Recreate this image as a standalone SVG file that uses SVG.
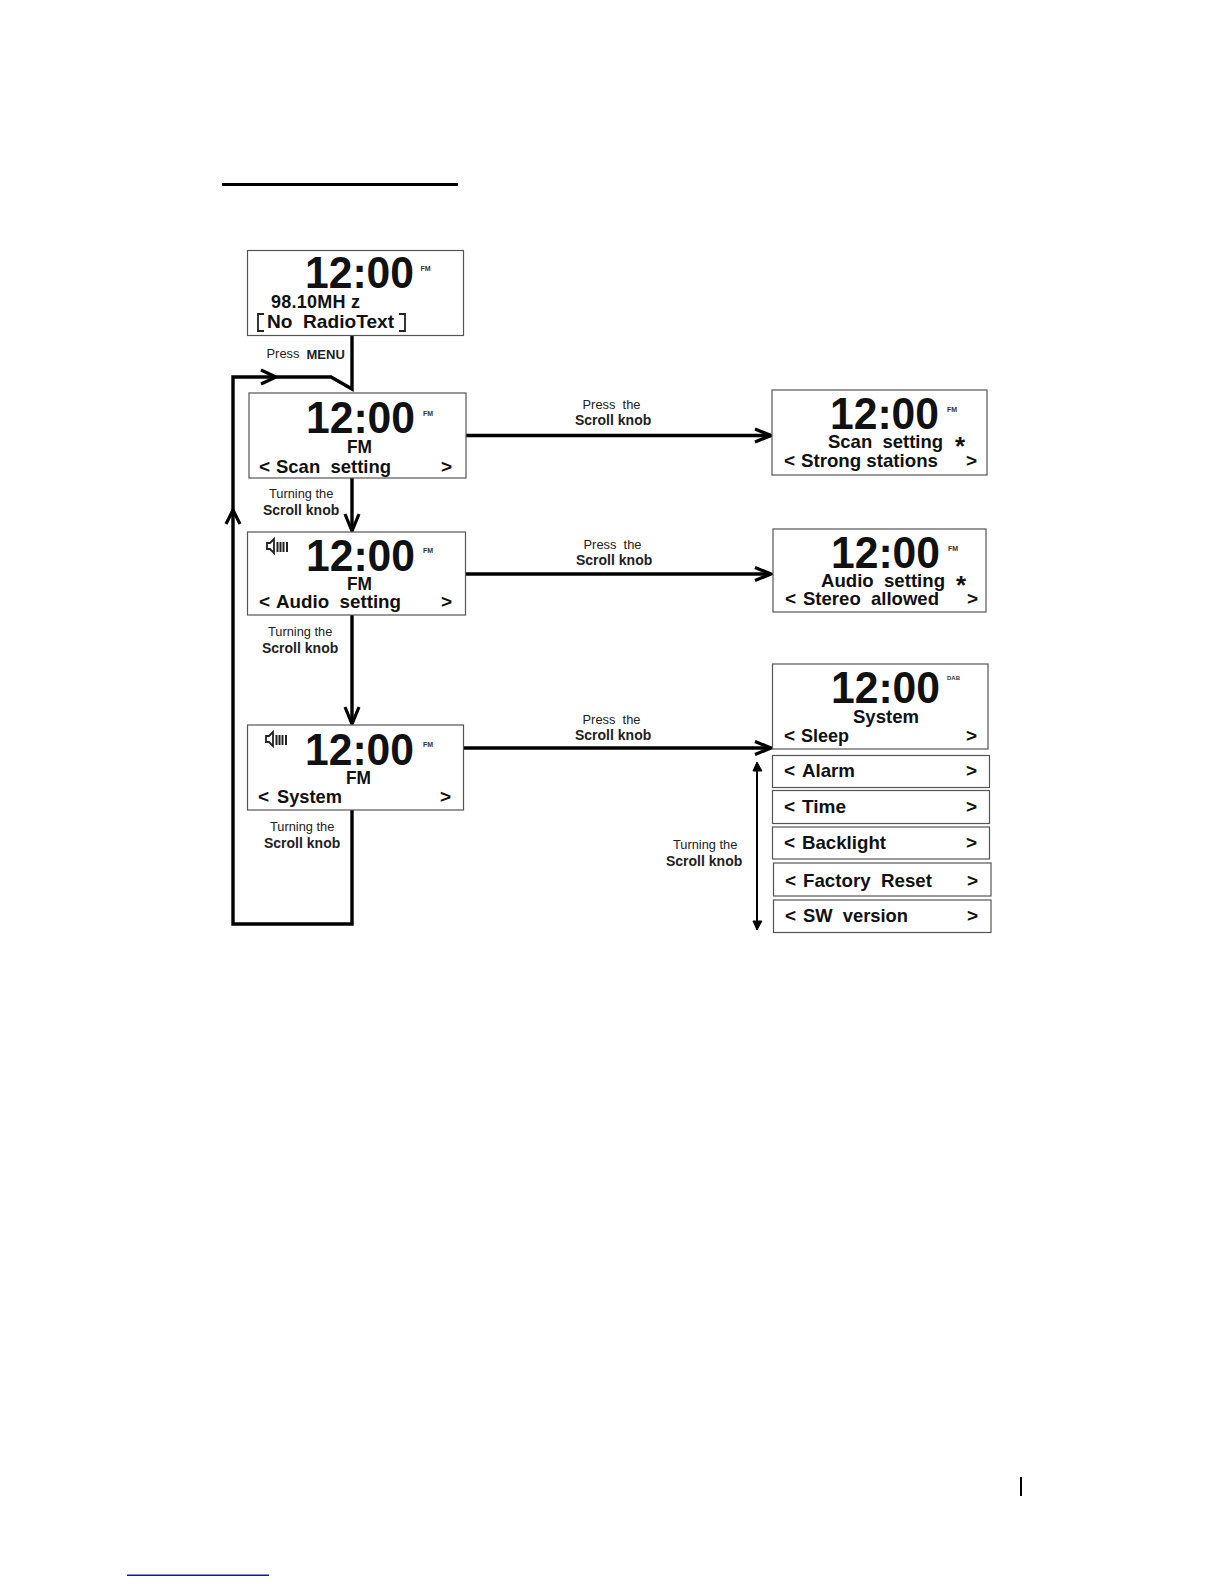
<svg xmlns="http://www.w3.org/2000/svg" width="1224" height="1584" viewBox="0 0 1224 1584">
<style>
text{font-family:"Liberation Sans",Arial,sans-serif;fill:#111;white-space:pre}
.t{font-size:45px;font-weight:700}
.m{font-size:19px;font-weight:700}
.fm{font-size:7px;font-weight:700;fill:#333}
.l{font-size:12.800px;fill:#222}
.lb{font-size:14px;font-weight:700;fill:#222}
.box{fill:#fff;stroke:#555;stroke-width:1.2}
.c{fill:none;stroke:#000;stroke-width:3.4}
.h{fill:none;stroke:#000;stroke-width:3.2}
.sp{fill:none;stroke:#222;stroke-width:1.8}
.a{font-size:26px;font-weight:700;text-anchor:middle}
</style>
<rect width="1224" height="1584" fill="#fff"/>
<rect x="222" y="183" width="236" height="3" fill="#000"/>
<g id="connectors">
<path class="c" d="M352 335V389L331 377H233V924H352V810"/>
<path class="h" d="M261 370L276 377L261 384"/>
<path class="h" d="M226 524L233 510L240 524"/>
<path class="c" d="M352 478V531"/>
<path class="h" d="M345 514L352 531L359 514"/>
<path class="c" d="M352 615V724"/>
<path class="h" d="M345 707L352 724L359 707"/>
<path class="c" d="M466 435.500H771"/>
<path class="h" d="M755 429L771 435.500L755 442"/>
<path class="c" d="M465 574H771"/>
<path class="h" d="M755 567.500L771 574L755 580.500"/>
<path class="c" d="M463 748H771"/>
<path class="h" d="M755 741.500L771 748L755 754.500"/>
<path d="M757 768V924" stroke="#000" stroke-width="2" fill="none"/>
<path d="M753 771L757 762L762 771Z M753 921L757 930L762 921Z" fill="#000" stroke="#000"/>
</g>
<g id="labels">
<text class="l" x="266.500" y="358" textLength="33" lengthAdjust="spacingAndGlyphs">Press</text><text class="lb" x="306.500" y="359" style="font-size:13px">MENU</text>
<text class="l" x="269" y="498">Turning the</text><text class="lb" x="263" y="515">Scroll knob</text>
<text class="l" x="268" y="636">Turning the</text><text class="lb" x="262" y="653">Scroll knob</text>
<text class="l" x="270" y="831">Turning the</text><text class="lb" x="264" y="848">Scroll knob</text>
<text class="l" x="673" y="849">Turning the</text><text class="lb" x="666" y="866">Scroll knob</text>
<text class="l" x="582.500" y="409" textLength="58" lengthAdjust="spacingAndGlyphs">Press  the</text><text class="lb" x="575" y="425">Scroll knob</text>
<text class="l" x="583.500" y="549" textLength="58" lengthAdjust="spacingAndGlyphs">Press  the</text><text class="lb" x="576" y="565">Scroll knob</text>
<text class="l" x="582.500" y="724" textLength="58" lengthAdjust="spacingAndGlyphs">Press  the</text><text class="lb" x="575" y="740">Scroll knob</text>
</g>
<g id="n1"><rect class="box" x="247.500" y="250.500" width="216" height="85"/>
<text class="t" x="305" y="288" textLength="109" lengthAdjust="spacingAndGlyphs">12:00</text><text class="fm" x="420.500" y="271">FM</text>
<text class="m" x="271" y="308" textLength="89" lengthAdjust="spacing" style="font-size:18px">98.10MH z</text>
<text class="m" x="267" y="328" textLength="127" lengthAdjust="spacingAndGlyphs">No  RadioText</text>
<path class="sp" d="M264 314H258V331H264M399 314H405V331H399"/></g>
<g id="n2"><rect class="box" x="249" y="393" width="217" height="85"/>
<text class="t" x="306" y="433" textLength="109" lengthAdjust="spacingAndGlyphs">12:00</text><text class="fm" x="423" y="416">FM</text>
<text class="m" x="347" y="453" textLength="25" lengthAdjust="spacingAndGlyphs">FM</text>
<text class="m" x="259" y="473">&lt;</text><text class="m" x="276" y="473" textLength="115" lengthAdjust="spacingAndGlyphs">Scan  setting</text><text class="m" x="441" y="473">&gt;</text></g>
<g id="n3"><rect class="box" x="247.500" y="532" width="218" height="83"/>
<path d="M267 543H270L274 539V553L270 549H267Z" fill="#fff" stroke="#222" stroke-width="1.800"/><path d="M277.500 542V552M280.500 542V552M283.500 542V552M287 542V552" stroke="#222" stroke-width="2"/>
<text class="t" x="306" y="571" textLength="109" lengthAdjust="spacingAndGlyphs">12:00</text><text class="fm" x="423" y="553">FM</text>
<text class="m" x="347" y="590" textLength="25" lengthAdjust="spacingAndGlyphs">FM</text>
<text class="m" x="259" y="608">&lt;</text><text class="m" x="276" y="608" textLength="125" lengthAdjust="spacingAndGlyphs">Audio  setting</text><text class="m" x="441" y="608">&gt;</text></g>
<g id="n4"><rect class="box" x="247.500" y="725" width="216" height="85"/>
<path d="M266 736H269L273 732V746L269 742H266Z" fill="#fff" stroke="#222" stroke-width="1.800"/><path d="M276.500 735V745M279.500 735V745M282.500 735V745M286 735V745" stroke="#222" stroke-width="2"/>
<text class="t" x="305" y="765" textLength="109" lengthAdjust="spacingAndGlyphs">12:00</text><text class="fm" x="423" y="747">FM</text>
<text class="m" x="346" y="784" textLength="25" lengthAdjust="spacingAndGlyphs">FM</text>
<text class="m" x="258" y="803">&lt;</text><text class="m" x="277" y="803" textLength="65" lengthAdjust="spacingAndGlyphs">System</text><text class="m" x="440" y="803">&gt;</text></g>
<g id="r1"><rect class="box" x="772" y="390" width="215" height="85"/>
<text class="t" x="830" y="429" textLength="109" lengthAdjust="spacingAndGlyphs">12:00</text><text class="fm" x="947" y="412">FM</text>
<text class="m" x="828" y="448" textLength="115" lengthAdjust="spacingAndGlyphs">Scan  setting</text>
<text class="a" x="960" y="455">*</text>
<text class="m" x="784" y="467">&lt;</text><text class="m" x="801" y="467" textLength="137" lengthAdjust="spacingAndGlyphs">Strong stations</text><text class="m" x="966" y="467">&gt;</text></g>
<g id="r2"><rect class="box" x="773" y="529" width="213" height="83"/>
<text class="t" x="831" y="568" textLength="109" lengthAdjust="spacingAndGlyphs">12:00</text><text class="fm" x="948" y="551">FM</text>
<text class="m" x="821" y="587" textLength="124" lengthAdjust="spacingAndGlyphs">Audio  setting</text>
<text class="a" x="961" y="594">*</text>
<text class="m" x="785" y="605">&lt;</text><text class="m" x="803" y="605" textLength="136" lengthAdjust="spacingAndGlyphs">Stereo  allowed</text><text class="m" x="967" y="605">&gt;</text></g>
<g id="r3"><rect class="box" x="772.500" y="664" width="215.500" height="85"/>
<text class="t" x="831" y="703" textLength="109" lengthAdjust="spacingAndGlyphs">12:00</text><text class="fm" x="947" y="680" style="font-size:6px">DAB</text>
<text class="m" x="853" y="723" textLength="66" lengthAdjust="spacingAndGlyphs">System</text>
<text class="m" x="784" y="742">&lt;</text><text class="m" x="801" y="742" textLength="48" lengthAdjust="spacingAndGlyphs">Sleep</text><text class="m" x="966" y="742">&gt;</text></g>
<g id="r4"><rect class="box" x="772.500" y="755.500" width="217" height="32"/>
<text class="m" x="784" y="777">&lt;</text><text class="m" x="802" y="777" textLength="53" lengthAdjust="spacingAndGlyphs">Alarm</text><text class="m" x="966" y="777">&gt;</text></g>
<g id="r5"><rect class="box" x="772.500" y="790.500" width="217" height="33"/>
<text class="m" x="784" y="813">&lt;</text><text class="m" x="802" y="813" textLength="44" lengthAdjust="spacingAndGlyphs">Time</text><text class="m" x="966" y="813">&gt;</text></g>
<g id="r6"><rect class="box" x="772.500" y="827" width="217" height="32"/>
<text class="m" x="784" y="849">&lt;</text><text class="m" x="802" y="849" textLength="84" lengthAdjust="spacingAndGlyphs">Backlight</text><text class="m" x="966" y="849">&gt;</text></g>
<g id="r7"><rect class="box" x="773.500" y="863" width="217.500" height="33"/>
<text class="m" x="785" y="887">&lt;</text><text class="m" x="803" y="887" textLength="129" lengthAdjust="spacingAndGlyphs">Factory  Reset</text><text class="m" x="967" y="887">&gt;</text></g>
<g id="r8"><rect class="box" x="773.500" y="900" width="217.500" height="32.500"/>
<text class="m" x="785" y="922">&lt;</text><text class="m" x="803" y="922" textLength="105" lengthAdjust="spacingAndGlyphs">SW  version</text><text class="m" x="967" y="922">&gt;</text></g>
<rect x="1020" y="1477" width="2" height="19" fill="#000"/>
<rect x="127" y="1574.500" width="142" height="1.500" fill="#1a1a8c"/>
</svg>
